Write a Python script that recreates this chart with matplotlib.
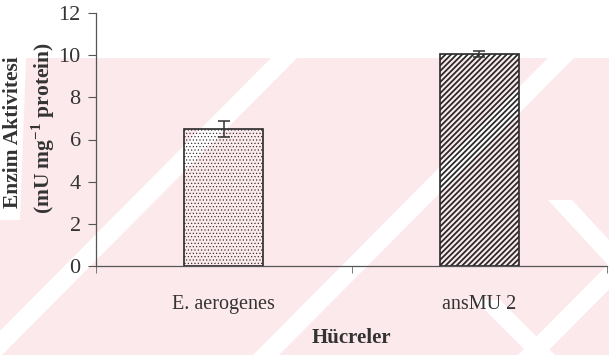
import matplotlib.pyplot as plt
from matplotlib.patches import Polygon
import numpy as np

# enzyme activity per cell type
cells = ['E. aerogenes', 'ansMU 2']
activity = [6.5, 10.05]
activity_err = [0.4, 0.15]
hatches = ['.....', '//////']
hatch_lw = [0.45, 1.3]
yticks = [0, 2, 4, 6, 8, 10, 12]

plt.rcParams['font.family'] = ['Liberation Serif', 'DejaVu Serif']
plt.rcParams['mathtext.fontset'] = 'custom'
plt.rcParams['mathtext.rm'] = 'Liberation Serif:bold'
plt.rcParams['mathtext.bf'] = 'Liberation Serif:bold'

W, H = 609, 355
fig = plt.figure(figsize=(W / 100, H / 100), dpi=100)
fig.patch.set_facecolor('white')

# faint pink page watermark behind the plot
def px_poly(pts, color):
    pts = [(x / W, 1 - y / H) for x, y in pts]
    fig.patches.append(Polygon(pts, closed=True, transform=fig.transFigure,
                               facecolor=color, edgecolor='none', zorder=-10))

pink = '#fce9ec'
px_poly([(0, 58), (W, 58), (W, H), (0, H)], pink)
for c in [93, 370, 635]:
    px_poly([(c + 178, 58), (c + 204, 58), (c - 91, H), (c - 117, H)], 'white')
px_poly([(0, 58), (26, 58), (20, 220), (0, 220)], 'white')
px_poly([(548, 200), (572, 200), (609, 240), (609, 266)], 'white')
px_poly([(475, 300), (500, 300), (555, H), (530, H)], 'white')

ax = fig.add_axes([96 / W, 1 - 266 / H, 511 / W, 253 / H])
ax.patch.set_alpha(0)

x = np.arange(len(cells))
for i in range(len(cells)):
    plt.rcParams['hatch.linewidth'] = hatch_lw[i]
    ax.bar(x[i], activity[i], width=0.31, facecolor='none', edgecolor='#2a2a2a',
           linewidth=1.2, hatch=hatches[i], zorder=2)
ax.errorbar(x, activity, yerr=activity_err, fmt='none', ecolor='#333333',
            elinewidth=1.1, capsize=4, capthick=1.1, zorder=3)

ax.set_xlim(-0.5, 1.5)
ax.set_ylim(0, 12)
ax.set_yticks(yticks)
ax.set_xticks(x)
ax.set_xticklabels(cells)
ax.set_xticks([-0.5, 0.5, 1.5], minor=True)
ax.tick_params(axis='x', which='major', length=0, labelsize=14.5, pad=21, colors='#333333')
ax.tick_params(axis='x', which='minor', length=5, direction='out', color='#666666')
ax.tick_params(axis='y', length=6, direction='out', labelsize=16, pad=5, color='#555555',
               labelcolor='#333333')

for s in ['top', 'right']:
    ax.spines[s].set_visible(False)
for s in ['left', 'bottom']:
    ax.spines[s].set_color('#555555')
    ax.spines[s].set_linewidth(0.9)

fig.text(13 / W, 1 - 132 / H, 'Enzim Aktivitesi', rotation=90, ha='center', va='center',
         fontsize=15.5, fontweight='bold', color='#333333')
fig.text(43 / W, 1 - 128 / H, '(mU mg$^{-1}$ protein)', rotation=90, ha='center',
         va='center', fontsize=15.5, fontweight='bold', color='#333333')
ax.set_xlabel('Hücreler', fontsize=15, fontweight='bold', color='#333333', labelpad=10)

fig.savefig('out.png', dpi=100)
